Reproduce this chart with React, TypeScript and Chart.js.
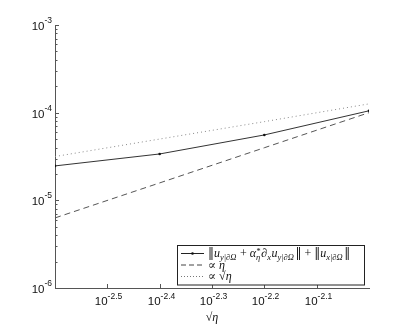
import React, { useEffect, useRef } from "react";
import { Chart, registerables } from "chart.js";

Chart.register(...registerables);

// ---- data ----
const sqrtEta = [0.0025119, 0.0039811, 0.0063096, 0.01];
const errNorm = [2.47e-5, 3.38e-5, 5.57e-5, 1.05e-4];
const propEta = [6.3e-6, 1.58e-5, 3.98e-5, 1.0e-4];
const propSqrtEta = [3.16e-5, 5.0e-5, 7.9e-5, 1.26e-4];
const xTickExps = ["-2.5", "-2.4", "-2.3", "-2.2", "-2.1"];
const yTickExps = ["-6", "-5", "-4", "-3"];
const xMinExp = -2.6;
const xMaxExp = -2.0;
const xTitle = "√η";

const AXIS = "#555";
const TEXT = "#111";
const SANS = '"Liberation Sans", Arial, sans-serif';
const SERIF = '"Liberation Serif", "DejaVu Serif", serif';

type Seg = { t: string; m?: "n" | "i" | "b" | "bp" | "d" | "g"; t2?: string; w?: number };

const legendRows: { label: Seg[]; style: "solid" | "dash" | "dot" }[] = [
  {
    style: "solid",
    label: [
      { t: "‖", m: "d" },
      { t: "u", m: "i" },
      { t: "y|∂Ω", m: "b" },
      { t: "", m: "g", w: 3 },
      { t: "+" },
      { t: "", m: "g", w: 3 },
      { t: "α", m: "i" },
      { t: "*", m: "bp", t2: "η" },
      { t: "∂" },
      { t: "x", m: "b" },
      { t: "u", m: "i" },
      { t: "y|∂Ω", m: "b" },
      { t: "", m: "g", w: 1 },
      { t: "‖", m: "d" },
      { t: "", m: "g", w: 3 },
      { t: "+" },
      { t: "", m: "g", w: 3 },
      { t: "‖", m: "d" },
      { t: "u", m: "i" },
      { t: "x|∂Ω", m: "b" },
      { t: "", m: "g", w: 1 },
      { t: "‖", m: "d" },
    ],
  },
  { style: "dash", label: [{ t: "∝ " }, { t: "η", m: "i" }] },
  { style: "dot", label: [{ t: "∝ √" }, { t: "η", m: "i" }] },
];

function drawRich(ctx: CanvasRenderingContext2D, segs: Seg[], x: number, y: number) {
  const main = `12px ${SERIF}`;
  const mainI = `italic 12px ${SERIF}`;
  const dv = `12px "DejaVu Serif", serif`;
  const small = `italic 8.5px ${SERIF}`;
  ctx.textBaseline = "alphabetic";
  ctx.textAlign = "left";
  let cx = x;
  for (const s of segs) {
    const m = s.m || "n";
    if (m === "g") {
      cx += s.w || 0;
    } else if (m === "n" || m === "i" || m === "d") {
      ctx.font = m === "i" ? mainI : m === "d" ? dv : main;
      ctx.fillText(s.t, cx, y);
      cx += ctx.measureText(s.t).width;
    } else if (m === "b") {
      ctx.font = small;
      ctx.fillText(s.t, cx, y + 2.5);
      cx += ctx.measureText(s.t).width + 0.5;
    } else {
      ctx.font = small;
      ctx.fillText(s.t, cx, y - 3.5);
      const w1 = ctx.measureText(s.t).width;
      ctx.fillText(s.t2 || "", cx, y + 2.5);
      const w2 = ctx.measureText(s.t2 || "").width;
      cx += Math.max(w1, w2) + 1;
    }
  }
}

function drawPow(ctx: CanvasRenderingContext2D, exp: string, x: number, y: number, align: "right" | "center") {
  ctx.textBaseline = "alphabetic";
  ctx.textAlign = "left";
  ctx.font = `11.5px ${SANS}`;
  const w1 = ctx.measureText("10").width;
  ctx.font = `8.5px ${SANS}`;
  const w2 = ctx.measureText(exp).width;
  const total = w1 + w2;
  const sx = align === "right" ? x - total : x - total / 2;
  ctx.font = `11.5px ${SANS}`;
  ctx.fillText("10", sx, y);
  ctx.font = `8.5px ${SANS}`;
  ctx.fillText(exp, sx + w1, y - 6.5);
}

const decoPlugin = {
  id: "deco",
  afterDraw(chart: any) {
    const ctx: CanvasRenderingContext2D = chart.ctx;
    const xs = chart.scales.x;
    const ys = chart.scales.y;
    const ca = chart.chartArea;
    ctx.save();
    ctx.strokeStyle = AXIS;
    ctx.lineWidth = 1;
    ctx.fillStyle = TEXT;
    // y ticks
    yTickExps.forEach((e, i) => {
      const k = parseFloat(e);
      const py = Math.round(ys.getPixelForValue(Math.pow(10, k))) + 0.5;
      ctx.beginPath();
      ctx.moveTo(ca.left, py);
      ctx.lineTo(ca.left + 4, py);
      ctx.stroke();
      drawPow(ctx, e, ca.left - 3, py + 4, "right");
      if (i < yTickExps.length - 1) {
        for (let m = 2; m <= 9; m++) {
          const my = Math.round(ys.getPixelForValue(m * Math.pow(10, k))) + 0.5;
          ctx.beginPath();
          ctx.moveTo(ca.left, my);
          ctx.lineTo(ca.left + 2.5, my);
          ctx.stroke();
        }
      }
    });
    // x ticks
    xTickExps.forEach((e) => {
      const k = parseFloat(e);
      const px = Math.round(xs.getPixelForValue(Math.pow(10, k))) + 0.5;
      ctx.beginPath();
      ctx.moveTo(px, ca.bottom);
      ctx.lineTo(px, ca.bottom - 4);
      ctx.stroke();
      drawPow(ctx, e, px + 1, ca.bottom + 17, "center");
    });
    // x title
    ctx.font = `italic 12px ${SERIF}`;
    ctx.textAlign = "center";
    ctx.fillText(xTitle, (ca.left + ca.right) / 2, ca.bottom + 33);
    // legend
    const bx = 177.5, by = 245.5, bw = 187, bh = 39.5;
    ctx.fillStyle = "#fff";
    ctx.fillRect(bx, by, bw, bh);
    ctx.strokeStyle = "#222";
    ctx.strokeRect(bx, by, bw, bh);
    const rowsY = [253, 264.5, 276];
    legendRows.forEach((r, i) => {
      const ry = rowsY[i] + 0.5;
      ctx.strokeStyle = r.style === "solid" ? "#222" : r.style === "dash" ? "#444" : "#777";
      ctx.setLineDash(r.style === "solid" ? [] : r.style === "dash" ? [5, 3] : [1, 2]);
      ctx.beginPath();
      ctx.moveTo(181, ry);
      ctx.lineTo(204, ry);
      ctx.stroke();
      ctx.setLineDash([]);
      if (r.style === "solid") {
        ctx.fillStyle = "#111";
        ctx.beginPath();
        ctx.arc(192.5, ry, 1.3, 0, Math.PI * 2);
        ctx.fill();
      }
      ctx.fillStyle = TEXT;
      drawRich(ctx, r.label, 208, rowsY[i] + 4);
    });
    ctx.restore();
  },
};

export default function App() {
  const ref = useRef<HTMLCanvasElement>(null);
  useEffect(() => {
    document.body.style.margin = "0";
    const pts = (ys: number[]) => sqrtEta.map((x, i) => ({ x, y: ys[i] }));
    const chart = new Chart(ref.current!, {
      type: "line",
      data: {
        datasets: [
          {
            data: pts(errNorm),
            borderColor: "#333",
            backgroundColor: "#111",
            borderWidth: 1,
            pointRadius: 1.3,
            pointBorderWidth: 0,
            tension: 0,
          },
          {
            data: pts(propEta),
            borderColor: "#555",
            borderWidth: 1,
            borderDash: [6, 4],
            pointRadius: 0,
          },
          {
            data: pts(propSqrtEta),
            borderColor: "#888",
            borderWidth: 1,
            borderDash: [1, 3],
            pointRadius: 0,
          },
        ],
      },
      options: {
        animation: false,
        responsive: false,
        devicePixelRatio: 1,
        parsing: false as any,
        layout: { padding: { left: 55, top: 25, right: 38, bottom: 39 } },
        plugins: { legend: { display: false }, tooltip: { enabled: false } },
        scales: {
          x: {
            type: "logarithmic",
            min: Math.pow(10, xMinExp),
            max: Math.pow(10, xMaxExp),
            grid: { display: false, drawTicks: false },
            border: { display: true, color: AXIS, width: 1 },
            ticks: { display: false },
          },
          y: {
            type: "logarithmic",
            min: 1e-6,
            max: 1e-3,
            grid: { display: false, drawTicks: false },
            border: { display: true, color: AXIS, width: 1 },
            ticks: { display: false },
          },
        },
      },
      plugins: [decoPlugin],
    });
    return () => chart.destroy();
  }, []);
  return (
    <div style={{ width: 407, height: 327, background: "#fff" }}>
      <canvas ref={ref} width={407} height={327} />
    </div>
  );
}
